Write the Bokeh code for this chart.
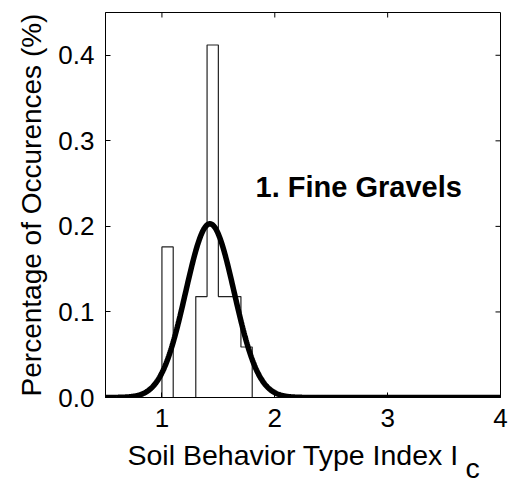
import numpy as np
from bokeh.plotting import figure
from bokeh.layouts import column
from bokeh.models import Range1d, FixedTicker, Label, PrintfTickFormatter
from bokeh.embed import file_html
from bokeh.resources import INLINE

# ---- data ----
bin_edges = [1.0, 1.1, 1.2, 1.3, 1.4, 1.5, 1.6, 1.7, 1.8]
bin_heights = [0.176, 0.0, 0.0, 0.118, 0.412, 0.118, 0.118, 0.059]
fit_mean = 1.425
fit_sd = 0.215
fit_peak = 0.203
x_ticks = [1, 2, 3, 4]
y_ticks = [0.0, 0.1, 0.2, 0.3, 0.4]
annotation = "1. Fine Gravels"
x_title = "Soil Behavior Type Index I"
x_title_sub = "c"
y_title = "Percentage of Occurences (%)"

FONT = "Liberation Sans"
X0, X1 = 0.5, 4.0
Y0, Y1 = 0.0, 0.45
W = 508
H_MAIN, H_TITLE = 440, 42
BL, BR, BT, BB = 105, 8, 12, 43
TICK = 5  # px

p = figure(width=W, height=H_MAIN, x_range=Range1d(X0, X1), y_range=Range1d(Y0, Y1),
           output_backend="svg", toolbar_location=None,
           min_border_left=BL, min_border_right=BR, min_border_top=BT, min_border_bottom=BB)
p.grid.visible = False
p.outline_line_color = "black"
p.outline_line_width = 1
p.background_fill_color = "white"
p.border_fill_color = "white"

# histogram outline (stairs)
step_x = [bin_edges[0]] + bin_edges
step_y = [0.0] + bin_heights + [0.0]
p.step(step_x, step_y, mode="after", line_color="#222222", line_width=1.2)

# fitted normal curve
xs = np.linspace(X0, X1, 600)
ys = fit_peak * np.exp(-0.5 * ((xs - fit_mean) / fit_sd) ** 2)
p.line(xs, ys, line_color="black", line_width=5.5)

# mirrored inward ticks on top and right edges
fw = W - BL - BR
fh = H_MAIN - BT - BB
dy = TICK * (Y1 - Y0) / fh
dx = TICK * (X1 - X0) / fw
tx = [t for t in x_ticks if X0 < t < X1]
ty = [t for t in y_ticks if Y0 < t < Y1]
p.segment(x0=tx, y0=[Y1] * len(tx), x1=tx, y1=[Y1 - dy] * len(tx), line_color="black", line_width=1)
p.segment(x0=[X1] * len(ty), y0=ty, x1=[X1 - dx] * len(ty), y1=ty, line_color="black", line_width=1)

for ax in (p.xaxis[0], p.yaxis[0]):
    ax.axis_line_color = "black"
    ax.major_tick_line_color = "black"
    ax.major_tick_in = TICK
    ax.major_tick_out = 0
    ax.minor_tick_line_color = None
    ax.major_label_text_font = FONT
    ax.major_label_text_color = "black"
    ax.major_label_text_font_size = "26px"
    ax.major_label_standoff = 11

p.xaxis.ticker = FixedTicker(ticks=x_ticks)
p.yaxis.ticker = FixedTicker(ticks=y_ticks)
p.yaxis.formatter = PrintfTickFormatter(format="%.1f")
p.yaxis.axis_label = y_title
p.yaxis.axis_label_text_font = FONT
p.yaxis.axis_label_text_font_size = "28px"
p.yaxis.axis_label_text_font_style = "normal"
p.yaxis.axis_label_text_color = "black"
p.yaxis.axis_label_standoff = 8

p.add_layout(Label(x=1.83, y=0.246, text=annotation, text_font=FONT, text_font_size="29px",
                   text_font_style="bold", text_color="black", text_baseline="alphabetic",
                   text_align="left"))

# x-axis title with subscript, drawn in a thin strip below the chart
# (the strip's frame is aligned with the chart frame by the column layout)
t = figure(width=W, height=H_TITLE, x_range=Range1d(0, 1), y_range=Range1d(0, 1),
           output_backend="svg", toolbar_location=None, x_axis_type=None, y_axis_type=None,
           min_border_left=BL, min_border_right=BR, min_border_top=0, min_border_bottom=0)
t.grid.visible = False
t.outline_line_color = None
t.background_fill_color = "white"
t.border_fill_color = "white"
t.add_layout(Label(x=22, y=28, x_units="screen", y_units="screen", text=x_title,
                   text_font=FONT, text_font_size="28.5px", text_color="black",
                   text_baseline="alphabetic", text_align="left"))
t.add_layout(Label(x=360, y=15, x_units="screen", y_units="screen", text=x_title_sub,
                   text_font=FONT, text_font_size="28.5px", text_color="black",
                   text_baseline="alphabetic", text_align="left"))

open("out.html", "w").write(file_html(column(p, t, spacing=0), INLINE))
